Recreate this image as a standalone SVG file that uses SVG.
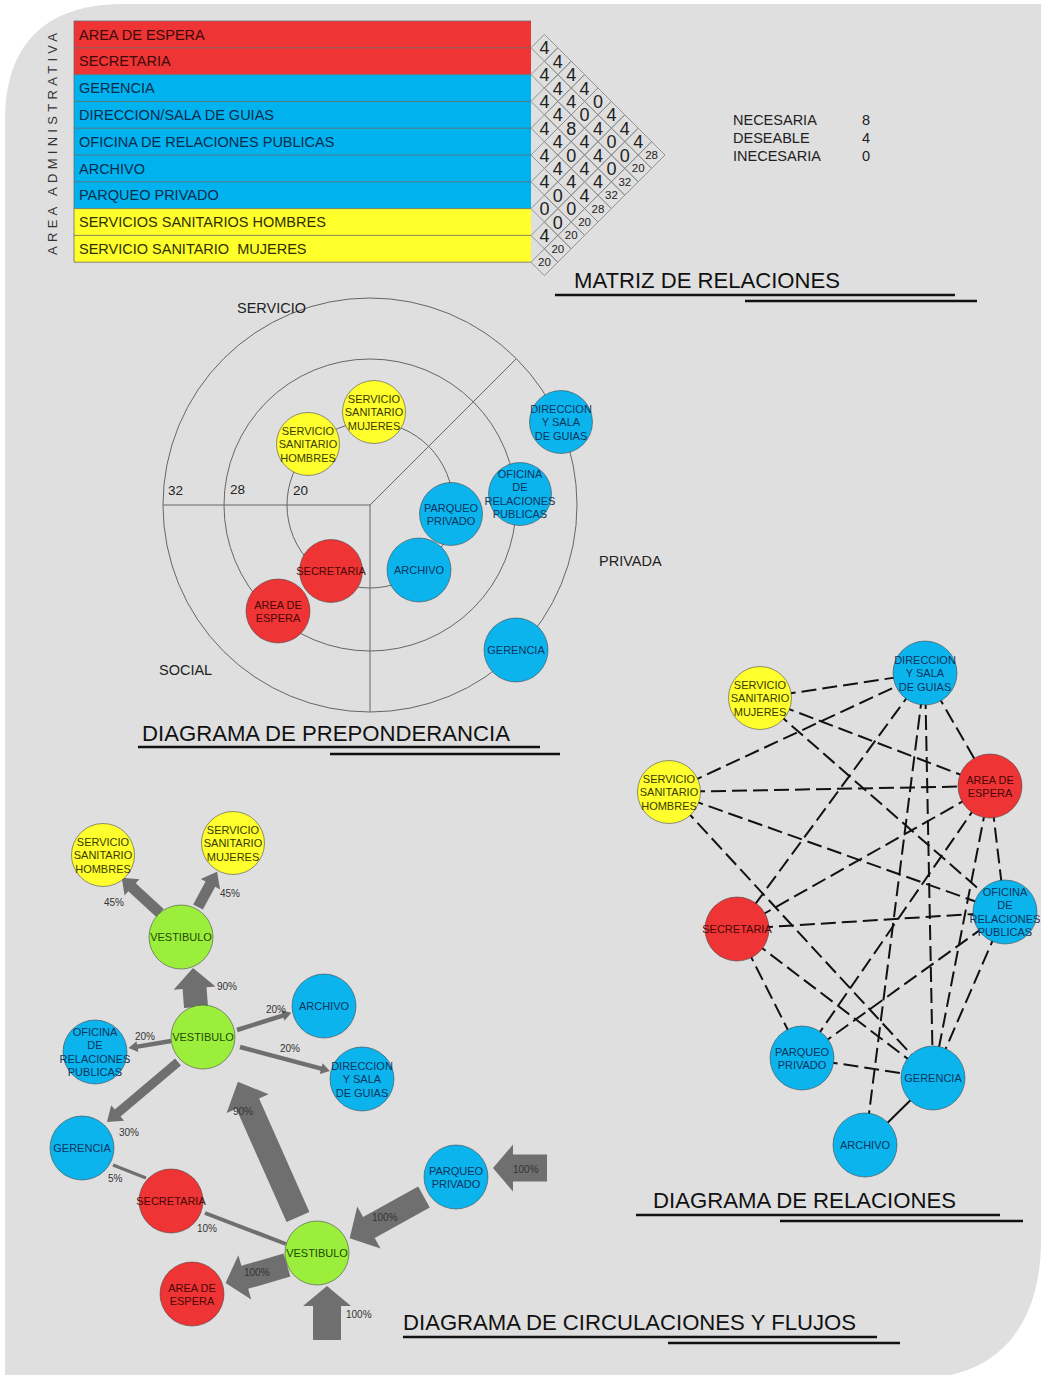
<svg xmlns="http://www.w3.org/2000/svg" xmlns:xlink="http://www.w3.org/1999/xlink" width="1045" height="1378" viewBox="0 0 1045 1378">
<style>
text{font-family:"Liberation Sans",Arial,sans-serif}
.nd circle{stroke:#404040;stroke-opacity:.55;stroke-width:1}
.red circle{fill:#ee3434}.red text{fill:#4a0606}
.blu circle{fill:#0bb4ec}.blu text{fill:#0c3560}
.yel circle{fill:#ffff2e}.yel text{fill:#3a3a00}
.grn circle{fill:#9bee3c}.grn text{fill:#1d4a00}
.nd text{font-size:11px;text-anchor:middle}
.dash{stroke:#111;stroke-width:2;stroke-dasharray:15 6;fill:none}
.arr{fill:#6f6f6f}
.bar{stroke:#6f6f6f;fill:none}
.pct{font-size:10px;fill:#333}
.ttl{font-size:22px;fill:#111}
.ul{stroke:#111;stroke-width:2.5}
.grid{fill:none;stroke:#666;stroke-width:1}
.dm{fill:none;stroke:#8a8a8a;stroke-width:.9}
.v{font-size:18px;text-anchor:middle;fill:#222}
.t{font-size:11.5px;text-anchor:middle;fill:#222}
.row{font-size:14.5px}
.lbl{font-size:14.5px;fill:#222}
.sep{stroke:#6a6a6a;stroke-width:.8}
</style>
<defs>
<polygon id="dmd" class="dm" points="-13.4,0 0,-13.4 13.4,0 0,13.4"/>
</defs>
<rect width="1045" height="1378" fill="#fff"/>
<path d="M5,120 C5,45 45,5 120,4 L1041,4 L1041,1240 C1041,1318 1005,1364 950,1375 L5,1375 Z" fill="#dfdfdf"/>

<!-- MATRIZ -->
<g id="matriz">
<text transform="translate(56.5,144) rotate(-90)" text-anchor="middle" textLength="222" lengthAdjust="spacing" font-size="13" fill="#333">AREA ADMINISTRATIVA</text>
<rect x="74" y="21" width="457" height="53.6" fill="#ee3434"/>
<rect x="74" y="74.6" width="457" height="134" fill="#00b3ee"/>
<rect x="74" y="208.6" width="457" height="53.6" fill="#ffff2b"/>
<g class="sep">
<line x1="74" y1="21" x2="531" y2="21"/>
<line x1="74" y1="47.8" x2="531" y2="47.8"/>
<line x1="74" y1="74.6" x2="531" y2="74.6"/>
<line x1="74" y1="101.4" x2="531" y2="101.4"/>
<line x1="74" y1="128.2" x2="531" y2="128.2"/>
<line x1="74" y1="155" x2="531" y2="155"/>
<line x1="74" y1="181.8" x2="531" y2="181.8"/>
<line x1="74" y1="208.6" x2="531" y2="208.6"/>
<line x1="74" y1="235.4" x2="531" y2="235.4"/>
<line x1="74" y1="262.2" x2="531" y2="262.2"/>
<line x1="74" y1="21" x2="74" y2="262.2"/>
</g>
<text class="row" x="79" y="39.5" fill="#3d0a0a">AREA DE ESPERA</text>
<text class="row" x="79" y="66.3" fill="#3d0a0a">SECRETARIA</text>
<text class="row" x="79" y="93.1" fill="#0b2b4d">GERENCIA</text>
<text class="row" x="79" y="119.9" fill="#0b2b4d">DIRECCION/SALA DE GUIAS</text>
<text class="row" x="79" y="146.7" fill="#0b2b4d">OFICINA DE RELACIONES PUBLICAS</text>
<text class="row" x="79" y="173.5" fill="#0b2b4d">ARCHIVO</text>
<text class="row" x="79" y="200.3" fill="#0b2b4d">PARQUEO PRIVADO</text>
<text class="row" x="79" y="227.1" fill="#2f2f00">SERVICIOS SANITARIOS HOMBRES</text>
<text class="row" x="79" y="253.9" fill="#2f2f00">SERVICIO SANITARIO&#160; MUJERES</text>

<use xlink:href="#dmd" x="544.4" y="47.8"/><use xlink:href="#dmd" x="557.8" y="61.2"/><use xlink:href="#dmd" x="571.2" y="74.6"/><use xlink:href="#dmd" x="584.6" y="88"/><use xlink:href="#dmd" x="598" y="101.4"/><use xlink:href="#dmd" x="611.4" y="114.8"/><use xlink:href="#dmd" x="624.8" y="128.2"/><use xlink:href="#dmd" x="638.2" y="141.6"/><use xlink:href="#dmd" x="651.6" y="155"/>
<use xlink:href="#dmd" x="544.4" y="74.6"/><use xlink:href="#dmd" x="557.8" y="88"/><use xlink:href="#dmd" x="571.2" y="101.4"/><use xlink:href="#dmd" x="584.6" y="114.8"/><use xlink:href="#dmd" x="598" y="128.2"/><use xlink:href="#dmd" x="611.4" y="141.6"/><use xlink:href="#dmd" x="624.8" y="155"/><use xlink:href="#dmd" x="638.2" y="168.4"/>
<use xlink:href="#dmd" x="544.4" y="101.4"/><use xlink:href="#dmd" x="557.8" y="114.8"/><use xlink:href="#dmd" x="571.2" y="128.2"/><use xlink:href="#dmd" x="584.6" y="141.6"/><use xlink:href="#dmd" x="598" y="155"/><use xlink:href="#dmd" x="611.4" y="168.4"/><use xlink:href="#dmd" x="624.8" y="181.8"/>
<use xlink:href="#dmd" x="544.4" y="128.2"/><use xlink:href="#dmd" x="557.8" y="141.6"/><use xlink:href="#dmd" x="571.2" y="155"/><use xlink:href="#dmd" x="584.6" y="168.4"/><use xlink:href="#dmd" x="598" y="181.8"/><use xlink:href="#dmd" x="611.4" y="195.2"/>
<use xlink:href="#dmd" x="544.4" y="155"/><use xlink:href="#dmd" x="557.8" y="168.4"/><use xlink:href="#dmd" x="571.2" y="181.8"/><use xlink:href="#dmd" x="584.6" y="195.2"/><use xlink:href="#dmd" x="598" y="208.6"/>
<use xlink:href="#dmd" x="544.4" y="181.8"/><use xlink:href="#dmd" x="557.8" y="195.2"/><use xlink:href="#dmd" x="571.2" y="208.6"/><use xlink:href="#dmd" x="584.6" y="222"/>
<use xlink:href="#dmd" x="544.4" y="208.6"/><use xlink:href="#dmd" x="557.8" y="222"/><use xlink:href="#dmd" x="571.2" y="235.4"/>
<use xlink:href="#dmd" x="544.4" y="235.4"/><use xlink:href="#dmd" x="557.8" y="248.8"/>
<use xlink:href="#dmd" x="544.4" y="262.2"/>

<text class="v" x="544.4" y="54.3">4</text><text class="v" x="557.8" y="67.7">4</text><text class="v" x="571.2" y="81.1">4</text><text class="v" x="584.6" y="94.5">4</text><text class="v" x="598" y="107.9">0</text><text class="v" x="611.4" y="121.3">4</text><text class="v" x="624.8" y="134.7">4</text><text class="v" x="638.2" y="148.1">4</text><text class="t" x="651.6" y="159">28</text>
<text class="v" x="544.4" y="81.1">4</text><text class="v" x="557.8" y="94.5">4</text><text class="v" x="571.2" y="107.9">4</text><text class="v" x="584.6" y="121.3">0</text><text class="v" x="598" y="134.7">4</text><text class="v" x="611.4" y="148.1">0</text><text class="v" x="624.8" y="161.5">0</text><text class="t" x="638.2" y="172.4">20</text>
<text class="v" x="544.4" y="107.9">4</text><text class="v" x="557.8" y="121.3">4</text><text class="v" x="571.2" y="134.7">8</text><text class="v" x="584.6" y="148.1">4</text><text class="v" x="598" y="161.5">4</text><text class="v" x="611.4" y="174.9">0</text><text class="t" x="624.8" y="185.8">32</text>
<text class="v" x="544.4" y="134.7">4</text><text class="v" x="557.8" y="148.1">4</text><text class="v" x="571.2" y="161.5">0</text><text class="v" x="584.6" y="174.9">4</text><text class="v" x="598" y="188.3">4</text><text class="t" x="611.4" y="199.2">32</text>
<text class="v" x="544.4" y="161.5">4</text><text class="v" x="557.8" y="174.9">4</text><text class="v" x="571.2" y="188.3">4</text><text class="v" x="584.6" y="201.7">4</text><text class="t" x="598" y="212.6">28</text>
<text class="v" x="544.4" y="188.3">4</text><text class="v" x="557.8" y="201.7">0</text><text class="v" x="571.2" y="215.1">0</text><text class="t" x="584.6" y="226">20</text>
<text class="v" x="544.4" y="215.1">0</text><text class="v" x="557.8" y="228.5">0</text><text class="t" x="571.2" y="239.4">20</text>
<text class="v" x="544.4" y="241.9">4</text><text class="t" x="557.8" y="252.8">20</text>
<text class="t" x="544.4" y="266.2">20</text>

<text class="lbl" x="733" y="125">NECESARIA</text>
<text class="lbl" x="733" y="143">DESEABLE</text>
<text class="lbl" x="733" y="161">INECESARIA</text>
<text class="lbl" x="862" y="125">8</text>
<text class="lbl" x="862" y="143">4</text>
<text class="lbl" x="862" y="161">0</text>

<text class="ttl" x="574" y="288" textLength="266" lengthAdjust="spacingAndGlyphs">MATRIZ DE RELACIONES</text>
<line class="ul" x1="555" y1="295" x2="955" y2="295"/>
<line class="ul" x1="745" y1="301" x2="977" y2="301"/>
</g>

<!-- PREPONDERANCIA grid -->
<g id="preponderancia-grid">
<circle class="grid" cx="370" cy="505" r="207"/>
<circle class="grid" cx="370" cy="505" r="146"/>
<circle class="grid" cx="370" cy="505" r="83"/>
<line class="grid" x1="163" y1="505" x2="370" y2="505"/>
<line class="grid" x1="370" y1="505" x2="370" y2="712"/>
<line class="grid" x1="370" y1="505" x2="516" y2="359"/>
<text x="237" y="313" font-size="14.5" fill="#222">SERVICIO</text>
<text x="599" y="566" font-size="14.5" fill="#222">PRIVADA</text>
<text x="159" y="675" font-size="14.5" fill="#222">SOCIAL</text>
<text x="168" y="495" font-size="13.5" fill="#222">32</text>
<text x="230" y="494" font-size="13.5" fill="#222">28</text>
<text x="293" y="495" font-size="13.5" fill="#222">20</text>
<text class="ttl" x="142" y="741" textLength="368" lengthAdjust="spacingAndGlyphs">DIAGRAMA DE PREPONDERANCIA</text>
<line class="ul" x1="138" y1="747" x2="540" y2="747"/>
<line class="ul" x1="330" y1="754" x2="560" y2="754"/>
</g>

<g id="p-mujeres" class="nd yel"><circle cx="374" cy="412" r="31.5"/><text x="374" y="402.5"><tspan x="374">SERVICIO</tspan><tspan x="374" dy="13.5">SANITARIO</tspan><tspan x="374" dy="13.5">MUJERES</tspan></text></g>
<g id="p-hombres" class="nd yel"><circle cx="308" cy="444" r="31.5"/><text x="308" y="434.5"><tspan x="308">SERVICIO</tspan><tspan x="308" dy="13.5">SANITARIO</tspan><tspan x="308" dy="13.5">HOMBRES</tspan></text></g>
<g id="p-direccion" class="nd blu"><circle cx="561" cy="422" r="31.5"/><text x="561" y="412.5"><tspan x="561">DIRECCION</tspan><tspan x="561" dy="13.5">Y SALA</tspan><tspan x="561" dy="13.5">DE GUIAS</tspan></text></g>
<g id="p-oficina" class="nd blu"><circle cx="520" cy="494" r="31.5"/><text x="520" y="477.5"><tspan x="520">OFICINA</tspan><tspan x="520" dy="13.5">DE</tspan><tspan x="520" dy="13.5">RELACIONES</tspan><tspan x="520" dy="13.5">PUBLICAS</tspan></text></g>
<g id="p-parqueo" class="nd blu"><circle cx="451" cy="514" r="31.5"/><text x="451" y="511.5"><tspan x="451">PARQUEO</tspan><tspan x="451" dy="13.5">PRIVADO</tspan></text></g>
<g id="p-archivo" class="nd blu"><circle cx="419" cy="570" r="32"/><text x="419" y="574">ARCHIVO</text></g>
<g id="p-secretaria" class="nd red"><circle cx="331" cy="571" r="31.5"/><text x="331" y="575">SECRETARIA</text></g>
<g id="p-area" class="nd red"><circle cx="278" cy="611" r="32"/><text x="278" y="608.5"><tspan x="278">AREA DE</tspan><tspan x="278" dy="13.5">ESPERA</tspan></text></g>
<g id="p-gerencia" class="nd blu"><circle cx="516" cy="650" r="32"/><text x="516" y="654">GERENCIA</text></g>

<!-- RELACIONES connectors -->
<g id="relaciones-conectores">
<line class="dash" x1="760" y1="698" x2="925" y2="673"/>
<line class="dash" x1="760" y1="698" x2="990" y2="786"/>
<line class="dash" x1="760" y1="698" x2="1005" y2="912"/>
<line class="dash" x1="669" y1="792" x2="925" y2="673"/>
<line class="dash" x1="669" y1="792" x2="990" y2="786"/>
<line class="dash" x1="669" y1="792" x2="1005" y2="912"/>
<line class="dash" x1="669" y1="792" x2="933" y2="1078"/>
<line class="dash" x1="925" y1="673" x2="737" y2="929"/>
<line class="dash" x1="925" y1="673" x2="865" y2="1145"/>
<line class="dash" x1="925" y1="673" x2="933" y2="1078"/>
<line class="dash" x1="925" y1="673" x2="990" y2="786"/>
<line class="dash" x1="990" y1="786" x2="1005" y2="912"/>
<line class="dash" x1="990" y1="786" x2="802" y2="1058"/>
<line class="dash" x1="990" y1="786" x2="933" y2="1078"/>
<line class="dash" x1="990" y1="786" x2="737" y2="929"/>
<line class="dash" x1="737" y1="929" x2="1005" y2="912"/>
<line class="dash" x1="737" y1="929" x2="933" y2="1078"/>
<line class="dash" x1="737" y1="929" x2="802" y2="1058"/>
<line class="dash" x1="802" y1="1058" x2="1005" y2="912"/>
<line class="dash" x1="802" y1="1058" x2="933" y2="1078"/>
<line class="dash" x1="1005" y1="912" x2="933" y2="1078"/>
<line x1="865" y1="1145" x2="933" y2="1078" stroke="#111" stroke-width="2"/>
</g>
<g id="r-direccion" class="nd blu"><circle cx="925" cy="673" r="32"/><text x="925" y="663.5"><tspan x="925">DIRECCION</tspan><tspan x="925" dy="13.5">Y SALA</tspan><tspan x="925" dy="13.5">DE GUIAS</tspan></text></g>
<g id="r-mujeres" class="nd yel"><circle cx="760" cy="698" r="31.5"/><text x="760" y="688.5"><tspan x="760">SERVICIO</tspan><tspan x="760" dy="13.5">SANITARIO</tspan><tspan x="760" dy="13.5">MUJERES</tspan></text></g>
<g id="r-area" class="nd red"><circle cx="990" cy="786" r="32"/><text x="990" y="783.5"><tspan x="990">AREA DE</tspan><tspan x="990" dy="13.5">ESPERA</tspan></text></g>
<g id="r-hombres" class="nd yel"><circle cx="669" cy="792" r="31.5"/><text x="669" y="782.5"><tspan x="669">SERVICIO</tspan><tspan x="669" dy="13.5">SANITARIO</tspan><tspan x="669" dy="13.5">HOMBRES</tspan></text></g>
<g id="r-oficina" class="nd blu"><circle cx="1005" cy="912" r="32"/><text x="1005" y="895.5"><tspan x="1005">OFICINA</tspan><tspan x="1005" dy="13.5">DE</tspan><tspan x="1005" dy="13.5">RELACIONES</tspan><tspan x="1005" dy="13.5">PUBLICAS</tspan></text></g>
<g id="r-secretaria" class="nd red"><circle cx="737" cy="929" r="32"/><text x="737" y="933">SECRETARIA</text></g>
<g id="r-parqueo" class="nd blu"><circle cx="802" cy="1058" r="32"/><text x="802" y="1055.5"><tspan x="802">PARQUEO</tspan><tspan x="802" dy="13.5">PRIVADO</tspan></text></g>
<g id="r-gerencia" class="nd blu"><circle cx="933" cy="1078" r="32"/><text x="933" y="1082">GERENCIA</text></g>
<g id="r-archivo" class="nd blu"><circle cx="865" cy="1145" r="32"/><text x="865" y="1149">ARCHIVO</text></g>
<g id="relaciones-titulo">
<text class="ttl" x="653" y="1208" textLength="303" lengthAdjust="spacingAndGlyphs">DIAGRAMA DE RELACIONES</text>
<line class="ul" x1="636" y1="1215" x2="1000" y2="1215"/>
<line class="ul" x1="780" y1="1221" x2="1023" y2="1221"/>
</g>

<!-- CIRCULACIONES connectors -->
<g id="circulaciones-conectores">
<polygon class="arr" transform="translate(160,913) rotate(-137.4)" points="0,-5.5 38,-5.5 38,-11 52,0 38,11 38,5.5 0,5.5"/>
<polygon class="arr" transform="translate(198,907) rotate(-61.5)" points="0,-5.5 26,-5.5 26,-11 40,0 26,11 26,5.5 0,5.5"/>
<polygon class="arr" transform="translate(196,1007) rotate(-94.4)" points="0,-12 19,-12 19,-21 39,0 19,21 19,12 0,12"/>
<polygon class="arr" transform="translate(237,1030) rotate(-17.5)" points="0,-2.25 48,-2.25 48,-5.5 57,0 48,5.5 48,2.25 0,2.25"/>
<polygon class="arr" transform="translate(171,1041) rotate(170.5)" points="0,-2.25 34,-2.25 34,-5.5 43,0 34,5.5 34,2.25 0,2.25"/>
<polygon class="arr" transform="translate(240,1047) rotate(14.9)" points="0,-2.25 84,-2.25 84,-5.5 93,0 84,5.5 84,2.25 0,2.25"/>
<polygon class="arr" transform="translate(178,1062) rotate(139.8)" points="0,-4.5 79,-4.5 79,-10 93,0 79,10 79,4.5 0,4.5"/>
<line class="bar" x1="113" y1="1165" x2="146" y2="1178" stroke-width="3"/>
<line class="bar" x1="205" y1="1213" x2="286" y2="1244" stroke-width="4"/>
<polygon class="arr" transform="translate(298,1217) rotate(-113.96)" points="0,-12.5 124,-12.5 124,-23 148,0 124,23 124,12.5 0,12.5"/>
<polygon class="arr" transform="translate(424,1197) rotate(151)" points="0,-12 63,-12 63,-24 85,0 63,24 63,12 0,12"/>
<polygon class="arr" transform="translate(547,1168) rotate(180)" points="0,-13.5 34,-13.5 34,-23.5 54,0 34,23.5 34,13.5 0,13.5"/>
<polygon class="arr" transform="translate(287,1265) rotate(163.7)" points="0,-12 44,-12 44,-23 64,0 44,23 44,12 0,12"/>
<polygon class="arr" transform="translate(327,1340) rotate(-90)" points="0,-14 34,-14 34,-24 54,0 34,24 34,14 0,14"/>
<text class="pct" x="104" y="906">45%</text>
<text class="pct" x="220" y="897">45%</text>
<text class="pct" x="217" y="990">90%</text>
<text class="pct" x="266" y="1013">20%</text>
<text class="pct" x="135" y="1040">20%</text>
<text class="pct" x="280" y="1052">20%</text>
<text class="pct" x="119" y="1136">30%</text>
<text class="pct" x="108" y="1182">5%</text>
<text class="pct" x="197" y="1232">10%</text>
<text class="pct" x="233" y="1115">90%</text>
<text class="pct" x="372" y="1221">100%</text>
<text class="pct" x="513" y="1173">100%</text>
<text class="pct" x="244" y="1276">100%</text>
<text class="pct" x="346" y="1318">100%</text>
</g>
<g id="c-hombres" class="nd yel"><circle cx="103" cy="855" r="31.5"/><text x="103" y="845.5"><tspan x="103">SERVICIO</tspan><tspan x="103" dy="13.5">SANITARIO</tspan><tspan x="103" dy="13.5">HOMBRES</tspan></text></g>
<g id="c-mujeres" class="nd yel"><circle cx="233" cy="843" r="31.5"/><text x="233" y="833.5"><tspan x="233">SERVICIO</tspan><tspan x="233" dy="13.5">SANITARIO</tspan><tspan x="233" dy="13.5">MUJERES</tspan></text></g>
<g id="c-vestibulo-1" class="nd grn"><circle cx="181" cy="937" r="32"/><text x="181" y="941">VESTIBULO</text></g>
<g id="c-vestibulo-2" class="nd grn"><circle cx="203" cy="1037" r="32"/><text x="203" y="1041">VESTIBULO</text></g>
<g id="c-archivo" class="nd blu"><circle cx="324" cy="1006" r="32"/><text x="324" y="1010">ARCHIVO</text></g>
<g id="c-oficina" class="nd blu"><circle cx="95" cy="1052" r="32"/><text x="95" y="1035.5"><tspan x="95">OFICINA</tspan><tspan x="95" dy="13.5">DE</tspan><tspan x="95" dy="13.5">RELACIONES</tspan><tspan x="95" dy="13.5">PUBLICAS</tspan></text></g>
<g id="c-direccion" class="nd blu"><circle cx="362" cy="1079" r="32"/><text x="362" y="1069.5"><tspan x="362">DIRECCION</tspan><tspan x="362" dy="13.5">Y SALA</tspan><tspan x="362" dy="13.5">DE GUIAS</tspan></text></g>
<g id="c-gerencia" class="nd blu"><circle cx="82" cy="1148" r="32"/><text x="82" y="1152">GERENCIA</text></g>
<g id="c-secretaria" class="nd red"><circle cx="171" cy="1201" r="32"/><text x="171" y="1205">SECRETARIA</text></g>
<g id="c-vestibulo-3" class="nd grn"><circle cx="317" cy="1253" r="32"/><text x="317" y="1257">VESTIBULO</text></g>
<g id="c-area" class="nd red"><circle cx="192" cy="1294" r="32"/><text x="192" y="1291.5"><tspan x="192">AREA DE</tspan><tspan x="192" dy="13.5">ESPERA</tspan></text></g>
<g id="c-parqueo" class="nd blu"><circle cx="456" cy="1177" r="32"/><text x="456" y="1174.5"><tspan x="456">PARQUEO</tspan><tspan x="456" dy="13.5">PRIVADO</tspan></text></g>
<g id="circulaciones-titulo">
<text class="ttl" x="403" y="1330" textLength="453" lengthAdjust="spacingAndGlyphs">DIAGRAMA DE CIRCULACIONES Y FLUJOS</text>
<line class="ul" x1="403" y1="1337" x2="877" y2="1337"/>
<line class="ul" x1="668" y1="1343" x2="900" y2="1343"/>
</g>
</svg>
